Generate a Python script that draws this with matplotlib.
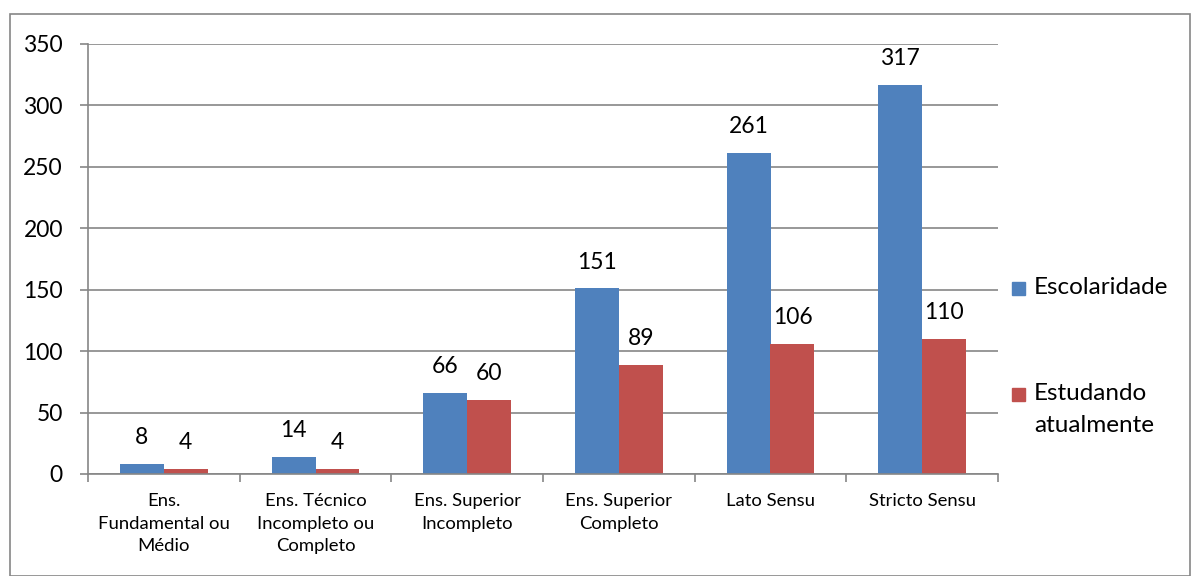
import numpy as np
import matplotlib.pyplot as plt
from matplotlib.patches import Rectangle

categories = ['Ens.\nFundamental ou\nMédio', 'Ens. Técnico\nIncompleto ou\nCompleto',
              'Ens. Superior\nIncompleto', 'Ens. Superior\nCompleto', 'Lato Sensu', 'Stricto Sensu']
escolaridade = [8, 14, 66, 151, 261, 317]
estudando = [4, 4, 60, 89, 106, 110]
series_names = ['Escolaridade', 'Estudando\natualmente']

blue = '#4F81BD'
red = '#C0504D'
gray = '#868686'

plt.rcParams['font.family'] = ['Lato', 'DejaVu Sans']

fig = plt.figure(figsize=(11.92, 5.76), dpi=100)
ax = fig.add_axes([88 / 1192, 1 - 474 / 576, 910 / 1192, 430 / 576])

x = np.arange(len(categories))
w = 0.29
b1 = ax.bar(x - w / 2, escolaridade, w, color=blue, label=series_names[0])
b2 = ax.bar(x + w / 2, estudando, w, color=red, label=series_names[1])

for bars, vals in ((b1, escolaridade), (b2, estudando)):
    for r, v in zip(bars, vals):
        ax.annotate(str(v), (r.get_x() + r.get_width() / 2, v), xytext=(0, 11.5),
                    textcoords='offset points', ha='center', va='bottom', fontsize=16.5)

ax.set_xlim(-0.5, len(categories) - 0.5)
ax.set_ylim(0, 350)
ax.set_yticks(np.arange(0, 351, 50))
ax.yaxis.grid(True, color=gray, linewidth=1.2)
ax.set_axisbelow(True)

ax.set_xticks(x)
ax.set_xticklabels(categories, fontsize=13.3, linespacing=1.5)
ax.set_xticks(np.arange(-0.5, len(categories), 1), minor=True)
ax.tick_params(axis='x', which='major', length=0, pad=14)
ax.tick_params(axis='x', which='minor', length=6, color=gray, width=1.2)
ax.tick_params(axis='y', length=6, color=gray, width=1.2, pad=12, labelsize=16.5)

for s in ['top', 'right']:
    ax.spines[s].set_visible(False)
for s in ['left', 'bottom']:
    ax.spines[s].set_color(gray)
    ax.spines[s].set_linewidth(1.2)

# legend drawn by hand to match layout
fig.patches.append(Rectangle((1012 / 1192, 1 - 295 / 576), 13 / 1192, 13 / 576,
                             transform=fig.transFigure, color=blue))
fig.text(1034 / 1192, 1 - 288 / 576, series_names[0], fontsize=17.5, va='center')
fig.patches.append(Rectangle((1012 / 1192, 1 - 401 / 576), 13 / 1192, 13 / 576,
                             transform=fig.transFigure, color=red))
fig.text(1034 / 1192, 1 - 394 / 576, 'Estudando', fontsize=17.5, va='center')
fig.text(1034 / 1192, 1 - 426 / 576, 'atualmente', fontsize=17.5, va='center')

# outer border
fig.patches.append(Rectangle((10 / 1192, 0.5 / 576), 1180 / 1192, 562 / 576,
                             transform=fig.transFigure, fill=False, edgecolor=gray, linewidth=1.2))

fig.savefig('out.png', dpi=100)
